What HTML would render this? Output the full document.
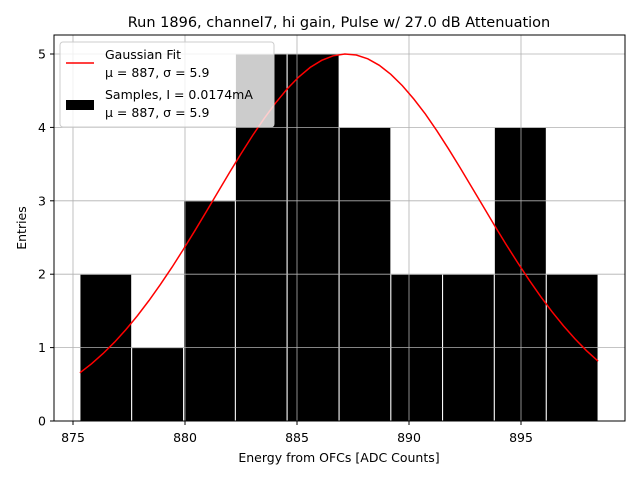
<!DOCTYPE html>
<html><head><meta charset="utf-8"><style>
body{margin:0;background:#fff;}
svg{display:block;font-family:"DejaVu Sans","Liberation Sans",sans-serif;}
</style></head><body>
<svg id="chart" width="640" height="480">
<text x="339" y="27" text-anchor="middle" font-size="14.5">Run 1896, channel7, hi gain, Pulse w/ 27.0 dB Attenuation</text>
<g id="bars"></g>
<g id="grid"></g>
<g id="curve"></g>
<rect x="54" y="35" width="571" height="386" fill="none" stroke="#000" stroke-width="1"/>
<g id="ticks"></g>
<text x="339" y="462" text-anchor="middle" font-size="12.5">Energy from OFCs [ADC Counts]</text>
<text x="26" y="228" text-anchor="middle" font-size="12.5" transform="rotate(-90 26 228)">Entries</text>
<g>
<rect x="60" y="42" width="214" height="85" rx="3" fill="rgba(255,255,255,0.8)" stroke="#ccc"/>
<line x1="66" y1="63" x2="94" y2="63" stroke="red" stroke-width="1.5"/>
<text x="105" y="59" font-size="12.5">Gaussian Fit</text>
<text x="105" y="77" font-size="12.5">μ = 887, σ = 5.9</text>
<rect x="66" y="100" width="28" height="10" fill="#000"/>
<text x="105" y="99" font-size="12.5">Samples, I = 0.0174mA</text>
<text x="105" y="117" font-size="12.5">μ = 887, σ = 5.9</text>
</g>
</svg>
<script>
const binEdges=[875.31,877.62,879.94,882.25,884.56,886.88,889.19,891.50,893.81,896.13,898.44];
const counts=[2,1,3,5,5,4,2,2,4,2];
const xTicks=[875,880,885,890,895];
const yTicks=[0,1,2,3,4,5];
const fitMu=[887.2];
const fitSigma=[5.9];
const fitAmp=[5.0];
const NS='http://www.w3.org/2000/svg';
const X=v=>73+(v-875)*22.4;
const Y=v=>421-v*73.4;
function mk(t,a,p){const e=document.createElementNS(NS,t);for(const k in a)e.setAttribute(k,a[k]);p.appendChild(e);return e;}
const grid=document.getElementById('grid'),ticks=document.getElementById('ticks');
xTicks.forEach(v=>{
 const g=mk('line',{x1:X(v),x2:X(v),y1:35,y2:421,stroke:'#b0b0b0','stroke-width':0.8},grid);
 
 
 mk('line',{x1:X(v),x2:X(v),y1:421,y2:425,stroke:'#000'},ticks);
 const t=mk('text',{x:X(v),y:442,'text-anchor':'middle','font-size':12.5},ticks);t.textContent=v;
 
 
});
yTicks.forEach(v=>{
 const g=mk('line',{x1:54,x2:625,y1:Y(v),y2:Y(v),stroke:'#b0b0b0','stroke-width':0.8},grid);
 
 
 mk('line',{x1:50,x2:54,y1:Y(v),y2:Y(v),stroke:'#000'},ticks);
 const t=mk('text',{x:46,y:Y(v)+4.5,'text-anchor':'end','font-size':12.5},ticks);t.textContent=v;
 
 
});
const bars=document.getElementById('bars');
counts.forEach((c,i)=>{
 const r=mk('rect',{x:X(binEdges[i]),y:Y(c),width:X(binEdges[i+1])-X(binEdges[i]),height:Y(0)-Y(c),fill:'#000',stroke:'#fff','stroke-width':1},bars);
 
 
});
const pts=[];const n=45,a=binEdges[0],b=binEdges[binEdges.length-1];
for(let i=0;i<=n;i++){const x=a+(b-a)*i/n;const y=fitAmp[0]*Math.exp(-Math.pow(x-fitMu[0],2)/(2*fitSigma[0]*fitSigma[0]));pts.push(X(x).toFixed(1)+','+Y(y).toFixed(1));}
const pl=mk('polyline',{points:pts.join(' '),fill:'none',stroke:'red','stroke-width':1.5},document.getElementById('curve'));


</script>
</body></html>
